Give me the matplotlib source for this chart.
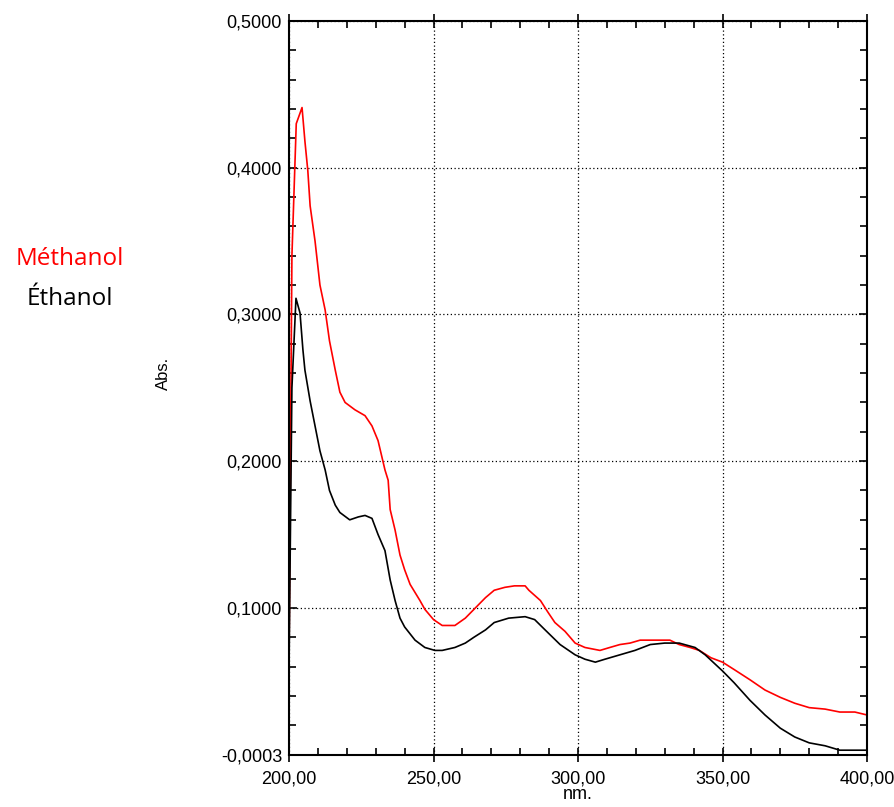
import matplotlib.pyplot as plt
import numpy as np
from matplotlib.ticker import MultipleLocator, FixedLocator

# spectre UV - méthanol (rouge)
wl_meth = [200, 201, 202.5, 204.5, 205.5, 206.5, 207.3, 209, 210.7, 212.5, 214, 216, 217.6,
           219.4, 222.8, 226.3, 228.7, 230.8, 233.2, 234.3, 235, 236.7, 238.4, 240, 241.9,
           245.3, 247, 250, 253, 257.4, 261, 264, 268, 271, 274.7, 278, 281.7, 283, 287,
           289.6, 292, 295.5, 299, 302.4, 307.6, 311, 314.5, 318, 321.5, 328, 331.8, 335,
           338.8, 342, 346, 350, 354, 359.5, 364.7, 370, 375, 380, 385.5, 390.6, 395.8, 400]
abs_meth = [0.067, 0.34, 0.43, 0.441, 0.418, 0.398, 0.374, 0.350, 0.320, 0.303, 0.282, 0.262, 0.247,
            0.240, 0.235, 0.231, 0.224, 0.214, 0.194, 0.187, 0.167, 0.153, 0.136, 0.126, 0.116,
            0.105, 0.099, 0.092, 0.088, 0.088, 0.093, 0.099, 0.107, 0.112, 0.114, 0.115, 0.115, 0.112, 0.105,
            0.097, 0.090, 0.084, 0.076, 0.073, 0.071, 0.073, 0.075, 0.076, 0.078, 0.078, 0.078, 0.075,
            0.073, 0.071, 0.066, 0.063, 0.058, 0.051, 0.044, 0.039, 0.035, 0.032, 0.031, 0.029, 0.029, 0.027]

# spectre UV - éthanol (noir)
wl_eth = [200, 201, 202.4, 203.8, 204.8, 205.5, 207.3, 209, 210.7, 212.5, 214, 216, 217.6, 221,
          224, 226.3, 228.7, 230.8, 233.2, 235, 236.7, 238.4, 240, 243.6, 247, 250.5, 253, 257.4,
          261, 264, 268, 271, 276, 281.7, 285, 288.6, 293.8, 299, 302.4, 306, 309.3, 314.5,
          319.7, 325, 330, 335, 340.5, 344, 350, 354, 359.5, 364.7, 370, 375, 380, 385.5,
          390.6, 395.8, 400]
abs_eth = [0.06, 0.25, 0.311, 0.301, 0.276, 0.262, 0.241, 0.224, 0.207, 0.194, 0.180, 0.170, 0.165, 0.160,
           0.162, 0.163, 0.161, 0.150, 0.139, 0.119, 0.105, 0.093, 0.087, 0.078, 0.073, 0.071, 0.071, 0.073,
           0.076, 0.080, 0.085, 0.090, 0.093, 0.094, 0.092, 0.085, 0.075, 0.068, 0.065, 0.063, 0.065, 0.068,
           0.071, 0.075, 0.076, 0.076, 0.073, 0.068, 0.057, 0.049, 0.037, 0.027, 0.018, 0.012, 0.008, 0.006,
           0.003, 0.003, 0.003]

yticks = [-0.0003, 0.1, 0.2, 0.3, 0.4, 0.5]
ylabels = ['-0,0003', '0,1000', '0,2000', '0,3000', '0,4000', '0,5000']
xticks = [200, 250, 300, 350, 400]
xlabels = ['200,00', '250,00', '300,00', '350,00', '400,00']

plt.rcParams['font.family'] = ['Liberation Sans', 'DejaVu Sans']

fig = plt.figure(figsize=(8.94, 8.07), dpi=100)
ax = fig.add_axes([0.3233, 0.0644, 0.6465, 0.9096])

ax.plot(wl_meth, abs_meth, color='red', lw=1.2)
ax.plot(wl_eth, abs_eth, color='black', lw=1.2)

ax.set_xlim(200, 400)
ax.set_ylim(-0.0003, 0.5)
ax.set_xticks(xticks)
ax.set_xticklabels(xlabels, fontsize=13)
ax.set_yticks(yticks)
ax.set_yticklabels(ylabels, fontsize=13)
ax.xaxis.set_minor_locator(MultipleLocator(10))
ax.yaxis.set_minor_locator(FixedLocator(np.arange(0.02, 0.5, 0.02)))

ax.tick_params(axis='x', which='major', direction='inout', length=10, width=1.2,
               top=True, pad=6)
ax.tick_params(axis='y', which='major', direction='in', length=6, width=1.2,
               right=True, pad=5)
ax.tick_params(which='minor', direction='in', length=5, width=1.2, top=True, right=True)

for s in ax.spines.values():
    s.set_linewidth(1.5)

ax.grid(True, which='major', color='black', linestyle=(0, (1, 2)), linewidth=0.9)

ax.set_xlabel('nm.', fontsize=13, labelpad=-1)
ax.set_ylabel('Abs.', fontsize=12)
ax.yaxis.set_label_coords(-0.205, 0.52)

fig.text(70 / 894, 1 - 265 / 807, 'Méthanol', color='red', fontsize=17.5, family='Open Sans',
         ha='center', va='baseline')
fig.text(70 / 894, 1 - 305 / 807, 'Éthanol', color='black', fontsize=17.5, family='Open Sans',
         ha='center', va='baseline')

fig.savefig('out.png', dpi=100)
